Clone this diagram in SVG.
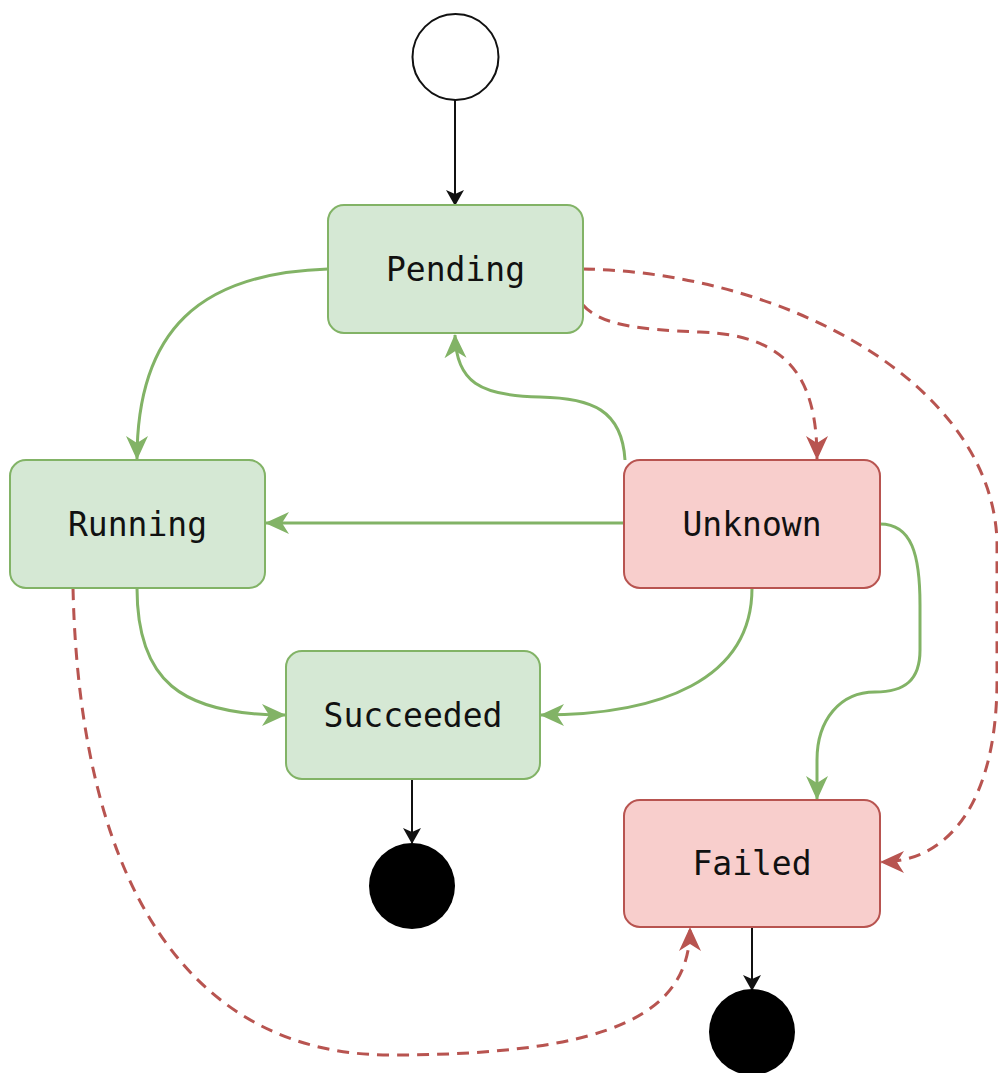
<svg xmlns="http://www.w3.org/2000/svg" width="998" height="1073" viewBox="0 0 998 1073">
<style>
.g{fill:#d5e8d4;stroke:#82b366;stroke-width:2}
.r{fill:#f8cecc;stroke:#b85450;stroke-width:2}
.t{font-family:"DejaVu Sans Mono","Liberation Mono",monospace;font-size:33px;fill:#111;text-anchor:middle}
.eg{fill:none;stroke:#82b366;stroke-width:3}
.er{fill:none;stroke:#b85450;stroke-width:3;stroke-dasharray:12 8}
.eb{fill:none;stroke:#111;stroke-width:2}
</style>
<defs>
<marker id="ag" viewBox="0 0 24 24" markerWidth="24" markerHeight="24" refX="23" refY="12" orient="auto" markerUnits="userSpaceOnUse"><path d="M0,1 L24,12 L0,23 L7,12 Z" fill="#82b366"/></marker>
<marker id="ar" viewBox="0 0 24 24" markerWidth="24" markerHeight="24" refX="23" refY="12" orient="auto" markerUnits="userSpaceOnUse"><path d="M0,1 L24,12 L0,23 L7,12 Z" fill="#b85450"/></marker>
<marker id="ab" viewBox="0 0 16 18" markerWidth="16" markerHeight="18" refX="15" refY="9" orient="auto" markerUnits="userSpaceOnUse"><path d="M0,0 L16,9 L0,18 L4,9 Z" fill="#111"/></marker>
</defs>
<g id="connectors">
<path class="eb" d="M455,100 L455,205" marker-end="url(#ab)"/>
<path class="eg" d="M328,269 C200,273 137,330 137,459" marker-end="url(#ag)"/>
<path class="eg" d="M625,460 C622,410 592,398 540,397 C480,396 456,382 455,335" marker-end="url(#ag)"/>
<path class="eg" d="M624,523 L266,523" marker-end="url(#ag)"/>
<path class="eg" d="M137,588 C137,680 180,715 285,715" marker-end="url(#ag)"/>
<path class="eg" d="M752,588 C752,680 660,715 541,715" marker-end="url(#ag)"/>
<path class="eg" d="M880,524 C912,524 920,555 920,605 L920,650 C920,680 905,692 875,692 C840,692 817,720 817,760 L817,799" marker-end="url(#ag)"/>
<path class="eb" d="M412,779 L412,843" marker-end="url(#ab)"/>
<path class="eb" d="M752,927 L752,990" marker-end="url(#ab)"/>
<path class="er" d="M583,305 C600,325 640,330 700,332 C790,335 817,380 817,459" marker-end="url(#ar)"/>
<path class="er" d="M583,269 C780,272 990,380 997,540 L997,680 C997,800 950,862 881,862" marker-end="url(#ar)"/>
<path class="er" d="M73,588 C80,900 200,1055 390,1055 C620,1055 690,1010 690,928" marker-end="url(#ar)"/>
</g>
<g id="start"><circle cx="455.5" cy="57" r="43" fill="#fff" stroke="#111" stroke-width="2"/></g>
<g id="pending"><rect class="g" x="328" y="205" width="255" height="128" rx="16"/><text class="t" x="455.5" y="281">Pending</text></g>
<g id="running"><rect class="g" x="10" y="460" width="255" height="128" rx="16"/><text class="t" x="137.5" y="536">Running</text></g>
<g id="unknown"><rect class="r" x="624" y="460" width="256" height="128" rx="16"/><text class="t" x="752" y="536">Unknown</text></g>
<g id="succeeded"><rect class="g" x="286" y="651" width="254" height="128" rx="16"/><text class="t" x="413" y="727">Succeeded</text></g>
<g id="failed"><rect class="r" x="624" y="800" width="256" height="127" rx="16"/><text class="t" x="752" y="875">Failed</text></g>
<g id="end1"><circle cx="412" cy="886" r="43" fill="#000"/></g>
<g id="end2"><circle cx="752" cy="1032" r="43" fill="#000"/></g>
</svg>
